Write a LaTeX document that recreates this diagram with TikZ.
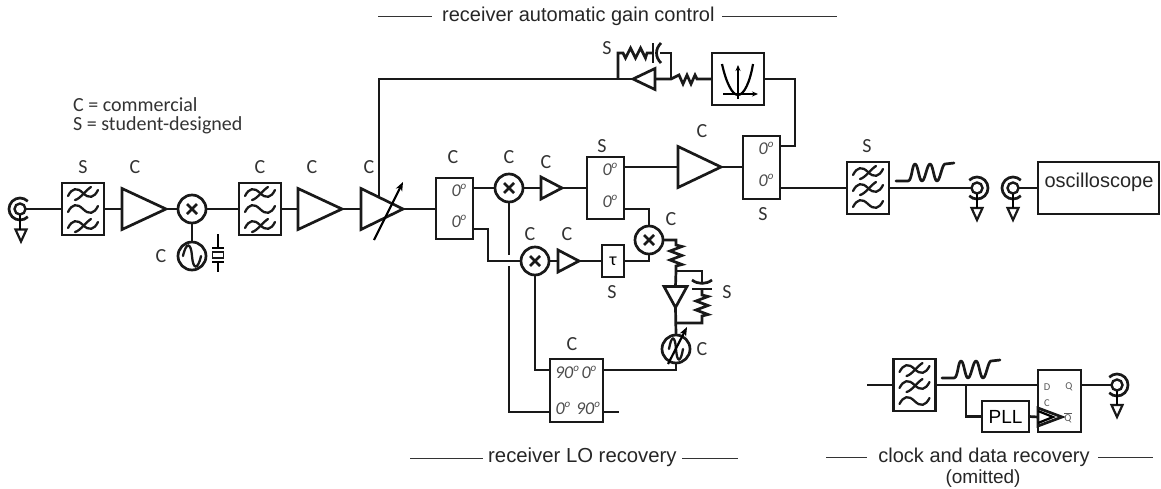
\documentclass[tikz,border=0pt]{standalone}
\usepackage{fontspec}
\setmainfont{Carlito}
\newfontfamily\arialf{Liberation Sans}
\usetikzlibrary{arrows.meta}
\tikzset{
  wire/.style={line width=2.7pt,line join=miter,draw=black!90},
  thin rule/.style={line width=1pt,draw=black!80},
  glyph/.style={line width=2.3pt,draw=black!90,line cap=round},
  ghost/.style={rectangle,inner sep=0pt,outer sep=0pt,minimum width=#1},
  ghost/.default=10pt,
  blk/.style={rectangle,draw=black!90,line width=2.7pt,inner sep=0pt,outer sep=0pt},
  mix/.style={circle,draw=black!90,line width=2.7pt,inner sep=0pt,outer sep=0pt,minimum size=28pt},
  jackc/.style={circle,draw=black!90,line width=2.4pt,inner sep=0pt,outer sep=0pt,minimum size=11pt},
  lab/.style={inner sep=0pt,font=\fontsize{20}{20}\selectfont,text=black!80},
  port/.style={inner sep=0pt,font=\fontsize{18}{18}\selectfont\itshape,text=black!70},
  title/.style={inner sep=0pt,font=\arialf\fontsize{20}{22}\selectfont,text=black!85},
  ff/.style={inner sep=0pt,font=\fontsize{10.5}{11}\selectfont,text=black!65},
}
\newcommand{\dg}{0\raisebox{0.4em}{\fontsize{11}{11}\selectfont o}}
\newcommand{\ndg}{90\raisebox{0.4em}{\fontsize{11}{11}\selectfont o}}
% name, cx, cy, w, h
\newcommand{\ampR}[5]{\node[ghost,minimum width=#4pt,minimum height=#5pt] (#1) at (#2,#3) {};
  \draw[wire] (#1.north west) -- (#1.east) -- (#1.south west) -- cycle;}
\newcommand{\ampL}[5]{\node[ghost,minimum width=#4pt,minimum height=#5pt] (#1) at (#2,#3) {};
  \draw[wire] (#1.north east) -- (#1.west) -- (#1.south east) -- cycle;}
\newcommand{\ampD}[5]{\node[ghost,minimum width=#4pt,minimum height=#5pt] (#1) at (#2,#3) {};
  \draw[wire] (#1.north west) -- (#1.north east) -- (#1.south) -- cycle;}
\newcommand{\gnd}[3]{\node[ghost,minimum width=11pt,minimum height=12pt] (#1) at (#2,#3) {};
  \draw[line width=2.2pt,draw=black!90] (#1.north west) -- (#1.north east) -- (#1.south) -- cycle;}
\newcommand{\wv}[1]{\draw[glyph] (-15,#1+3) .. controls (-11,#1-5) and (-6,#1-6) .. (0,#1) .. controls (6,#1+6) and (11,#1+5) .. (15,#1-3);}
\newcommand{\crs}[1]{\draw[glyph] (-8,#1+7) .. controls (-3,#1+6) and (3,#1-3) .. (8,#1-6);}
\newcommand{\filtbp}[3]{\node[blk,minimum width=42pt,minimum height=52pt] (#1) at (#2,#3) {};
  \begin{scope}[shift={(#2,#3)}]\wv{-16}\crs{-16}\wv{0}\wv{16}\crs{16}\end{scope}}
\newcommand{\filtlp}[3]{\node[blk,minimum width=42pt,minimum height=52pt] (#1) at (#2,#3) {};
  \begin{scope}[shift={(#2,#3)}]\wv{-16}\crs{-16}\wv{0}\crs{0}\wv{16}\end{scope}}
\newcommand{\sinewv}[3]{\draw[glyph] (#1-#3,#2) .. controls (#1-#3*0.66,#2-14) and (#1-1,#2-14) .. (#1,#2) .. controls (#1+1,#2+14) and (#1+#3*0.66,#2+14) .. (#1+#3,#2);}
\newcommand{\xmark}{\draw[line width=2.8pt,draw=black!90] (-5,-5) -- (5,5) (-5,5) -- (5,-5);}
\newcommand{\pulse}[2]{\draw[wire,line cap=round,line join=round] (#1,#2) -- ++(12,0) .. controls +(4,0) and +(-3,0) .. ++(7,-17) .. controls +(3,0) and +(-3,0) .. ++(7,17) .. controls +(3,0) and +(-3,0) .. ++(8,-17) .. controls +(3,0) and +(-3,0) .. ++(7,17) .. controls +(3,0) and +(-3,0) .. ++(8,-17) .. controls +(3,0) and +(-3,0) .. ++(9,-1);}
\newcommand{\zigV}[2]{-- (#1,#2) -- ++(6,1.5) -- ++(-12,4.5) -- ++(12,4.5) -- ++(-12,4.5) -- ++(12,4.5) -- ++(-6,1.5)}
\begin{document}
\begin{tikzpicture}[x=1pt,y=-1pt]
\useasboundingbox (0,0) rectangle (1161,488);

% --- titles
\node[title,anchor=west] (t1) at (442,16) {receiver automatic gain control};
\coordinate (t1a) at (378,16); \coordinate (t1b) at (432,16);
\coordinate (t1c) at (722,16); \coordinate (t1d) at (837,16);
\draw[thin rule] (t1a) -- (t1b) (t1c) -- (t1d);
\node[title,anchor=west,font=\arialf\fontsize{20.3}{22}\selectfont] (t2) at (488,457) {receiver LO recovery};
\coordinate (t2a) at (410,458); \coordinate (t2b) at (483,458);
\coordinate (t2c) at (682,458); \coordinate (t2d) at (738,458);
\draw[thin rule] (t2a) -- (t2b) (t2c) -- (t2d);
\node[title] (t3) at (984,457) {clock and data recovery};
\coordinate (t3a) at (826,457); \coordinate (t3b) at (867,457);
\coordinate (t3c) at (1098,457); \coordinate (t3d) at (1153,457);
\draw[thin rule] (t3a) -- (t3b) (t3c) -- (t3d);
\node[inner sep=0pt,font=\arialf\fontsize{19}{20}\selectfont,text=black!85] (t4) at (983,479) {(omitted)};
\node[lab,anchor=west,font=\fontsize{20}{20}\selectfont] (k1) at (73,105) {C = commercial};
\node[lab,anchor=west,font=\fontsize{20}{20}\selectfont] (k2) at (73,125) {S = student-designed};

% --- input chain
\node[jackc] (j1) at (20,209) {};
\draw[wire] (j1)++(45:11pt) arc[start angle=45,end angle=315,radius=11pt];
\gnd{g1}{21}{235.5}
\draw[line width=2.2pt] (j1.south) -- (j1.south |- g1.north);
\filtbp{f1}{83}{209}
\ampR{a1}{144}{209}{44}{41}
\node[mix,path picture={\xmark}] (m0) at (192,209) {};
\node[mix] (o0) at (192,256) {};
\sinewv{192}{256}{9}
\filtbp{f2}{260}{209}
\ampR{a2}{320}{209}{44}{41}
\ampR{a3}{382}{209}{42}{41}
\coordinate (a3top) at (379,196);
\coordinate (a3cA) at (374,240); \coordinate (a3cB) at (403,182);
\draw[line width=2.2pt,-{Stealth[length=9pt,width=7pt]}] (a3cA) -- (a3cB);
\draw[wire] (j1.east) -- (f1.west);
\draw[wire] (f1.east) -- (a1.west);
\draw[wire] (a1.east) -- (m0.west);
\draw[wire] (m0.south) -- (o0.north);
\draw[wire] (m0.east) -- (f2.west);
\draw[wire] (f2.east) -- (a2.west);
\draw[wire] (a2.east) -- (a3.west);
% crystal
\node[rectangle,draw=black!90,line width=1.8pt,minimum width=11pt,minimum height=6pt,inner sep=0pt] (xt) at (218,255) {};
\coordinate (xa) at (218,234); \coordinate (xb) at (218,248);
\coordinate (xc) at (218,262); \coordinate (xd) at (218,272);
\coordinate (xe) at (212,248); \coordinate (xf) at (224,248);
\coordinate (xg) at (212,262); \coordinate (xh) at (224,262);
\draw[line width=2.2pt] (xa) -- (xb) (xe) -- (xf) (xg) -- (xh) (xc) -- (xd);

% --- splitters
\node[blk,minimum width=37pt,minimum height=61pt] (s1) at (454.5,208.5) {};
\node[port] (s1a) at (459,190) {\dg}; \node[port] (s1b) at (459,221) {\dg};
\node[mix,path picture={\xmark}] (m1) at (509,188) {};
\ampR{a4}{551.5}{188}{21}{22}
\node[blk,minimum width=37pt,minimum height=62pt] (s2) at (605.5,188) {};
\node[port] (s2a) at (610,169) {\dg}; \node[port] (s2b) at (610,201) {\dg};
\ampR{a5}{699.5}{167}{43}{41}
\node[blk,minimum width=37pt,minimum height=63pt] (s3) at (761.5,167.5) {};
\node[port] (s3a) at (766,148) {\dg}; \node[port] (s3b) at (766,180) {\dg};
\node[blk,minimum width=52pt,minimum height=52pt] (pb) at (738,79) {};
\draw[line width=1.6pt,-{Stealth[length=6pt,width=5pt]}] (738,99) -- (738,65);
\draw[line width=1.6pt,-{Stealth[length=6pt,width=5pt]}] (723,94) -- (758,94);
\draw[line width=2.2pt] (722,64) .. controls (726,82) and (732,95) .. (738,95) .. controls (744,95) and (750,82) .. (753,64);

\coordinate (s1in) at (436,209);
\coordinate (s1o1) at (473,188); \coordinate (s1o2) at (473,229);
\coordinate (s2o1) at (624,167); \coordinate (s2o2) at (624,209);
\draw[wire] (a3.east) -- (s1in);
\draw[wire] (s1o1) -- (m1.west);
\draw[wire] (m1.east) -- (a4.west);
\draw[wire] (a4.east) -- (s2.west);
\draw[wire] (s2o1) -- (a5.west);
\coordinate (s3in) at (743,167);
\draw[wire] (a5.east) -- (s3in);

% --- AGC feedback
\coordinate (s3o1) at (780,146); \coordinate (s3o2) at (780,188);
\coordinate (fbc) at (795,79);
\draw[wire] (s3o1) -| (fbc) -- (pb.east);
\ampL{bL}{644}{79}{22}{21}
\coordinate (jn1) at (671,79);
\coordinate (jn2) at (618,79);
\coordinate (fbtop) at (379,79);
\draw[wire] (pb.west) -- (697,79) -- ++(-2,-4) -- ++(-4,9) -- ++(-4,-9) -- ++(-4,9) -- ++(-4,-9) -- (jn1) -- (bL.east);
\draw[wire] (jn1) |- (660,53);
\draw[wire] (653,53) -- (647,53) -- ++(-1.5,5) -- ++(-5,-10) -- ++(-5,10) -- ++(-5,-10) -- ++(-5,10) -- ++(-2.5,-5) -- (618,53) -- (jn2);
\draw[wire] (bL.west) -- (fbtop) -- (a3top);
\coordinate (c1a) at (653,43); \coordinate (c1b) at (653,63);
\coordinate (c1c) at (661,43); \coordinate (c1d) at (661,63);
\draw[wire] (c1a) -- (c1b);
\draw[wire] (c1c) .. controls (655,49) and (655,57) .. (c1d);

% --- LO recovery
\node[mix,path picture={\xmark}] (m2) at (535,261) {};
\ampR{a6}{568.5}{261}{21}{22}
\node[blk,minimum width=22pt,minimum height=32pt,font=\fontsize{18}{18}\selectfont] (tau) at (613,261) {τ};
\node[mix,path picture={\xmark}] (m3) at (649,240) {};
\coordinate (gapt) at (509,255); \coordinate (gapb) at (509,266);
\draw[wire] (s1o2) -| (488,261) -- (m2.west);
\draw[wire] (m1.south) -- (gapt);
\draw[wire] (m2.east) -- (a6.west);
\draw[wire] (a6.east) -- (tau.west);
\draw[wire] (tau.east) -| (m3.south);
\draw[wire] (s2o2) -| (m3.north);
\node[blk,minimum width=53pt,minimum height=63pt] (lo) at (576.5,390.5) {};
\node[port] (lo1) at (567,372) {\ndg}; \node[port] (lo2) at (589,372) {\dg};
\node[port] (lo3) at (563,408) {\dg}; \node[port] (lo4) at (588,408) {\ndg};
\coordinate (loa) at (550,370); \coordinate (lob) at (550,412);
\coordinate (loc) at (603,370); \coordinate (lod) at (603,412);
\coordinate (loe) at (619,412);
\draw[wire] (m2.south) |- (loa);
\draw[wire] (gapb) |- (lob);
\draw[wire] (lod) -- (loe);
\ampD{bD}{675.5}{297}{23}{21}
\node[mix] (vco) at (676,349) {};
\sinewv{676}{349}{7}
\draw[line width=2.2pt,-{Stealth[length=9pt,width=7pt]}] (668,364) -- (687,327);
\coordinate (lpa) at (676,271); \coordinate (lpb) at (676,323);
\draw[wire] (m3.east) -- (676,240) \zigV{676}{245} -- (lpa) -- (bD.north);
\draw[wire] (bD.south) -- (vco.north);
\draw[wire] (loc) -| (vco.south);
\coordinate (c2top) at (702,282); \coordinate (c2bot) at (702,289);
\draw[wire] (lpa) -| (c2top);
\draw[wire] (692,280) .. controls (698,284.5) and (706,284.5) .. (712,280);
\draw[wire] (692,289) -- (712,289);
\draw[wire] (c2bot) \zigV{702}{295} -- (702,323) -- (lpb);

% --- output
\filtlp{f3}{868}{188}
\draw[wire] (s3o2) -- (f3.west);
\pulse{896}{181}
\node[jackc] (j2) at (977,188) {};
\draw[wire] (j2)++(135:11pt) arc[start angle=135,end angle=-135,radius=11pt];
\gnd{g2}{977}{214}
\draw[line width=2.2pt] (j2.south) -- (g2.north);
\draw[wire] (f3.east) -- (j2.west);
\node[jackc] (j3) at (1013,188) {};
\draw[wire] (j3)++(45:11pt) arc[start angle=45,end angle=315,radius=11pt];
\gnd{g3}{1013}{214}
\draw[line width=2.2pt] (j3.south) -- (g3.north);
\node[blk,minimum width=121pt,minimum height=52pt] (sc) at (1098.5,188) {};
\node[inner sep=0pt,font=\arialf\fontsize{20}{20}\selectfont,text=black!85] (sct) at (1099,182) {oscilloscope};
\draw[wire] (j3.east) -- (sc.west);

% --- clock and data recovery
\coordinate (cdrin) at (867,385);
\filtlp{f4}{914.5}{385}
\pulse{942}{378}
\node[blk,minimum width=43pt,minimum height=62pt] (dff) at (1059.5,401) {};
\node[blk,minimum width=47pt,minimum height=31pt,font=\arialf\fontsize{19}{19}\selectfont] (pll) at (1005.5,416.5) {PLL};
\coordinate (dffd) at (1038,385); \coordinate (dffq) at (1081,385);
\coordinate (cdrbr) at (966,385);
\coordinate (clkb) at (1038,417);
\draw[wire] (cdrin) -- (f4.west);
\draw[wire] (f4.east) -- (dffd);
\draw[wire] (cdrbr) |- (pll.west);
\draw[wire] (pll.east) -- (clkb);
\ampR{ck1}{1050}{417}{24}{18}
\coordinate (ck2a) at (1038,411); \coordinate (ck2b) at (1053,417); \coordinate (ck2c) at (1038,423);
\draw[line width=2.2pt] (ck2a) -- (ck2b) -- (ck2c);
\node[ff] (fd) at (1047,387) {D}; \node[ff] (fq) at (1069,387) {Q};
\node[ff] (fc) at (1047,403) {C}; \node[ff] (fn) at (1068,418) {$\overline{\mbox{Q}}$};
\node[jackc] (j4) at (1117,385) {};
\draw[wire] (j4)++(135:11pt) arc[start angle=135,end angle=-135,radius=11pt];
\gnd{g4}{1117}{411}
\draw[line width=2.2pt] (j4.south) -- (g4.north);
\draw[wire] (dffq) -- (j4.west);

% --- C / S labels
\node[lab] (l1) at (83,167) {S}; \node[lab] (l2) at (135,167) {C};
\node[lab] (l3) at (161,256) {C}; \node[lab] (l4) at (260,167) {C};
\node[lab] (l5) at (312,167) {C}; \node[lab] (l6) at (369,167) {C};
\node[lab] (l7) at (453,157) {C}; \node[lab] (l8) at (509,157) {C};
\node[lab] (l9) at (546,162) {C}; \node[lab] (l10) at (602,146) {S};
\node[lab] (l11) at (702,131) {C}; \node[lab] (l12) at (763,214) {S};
\node[lab] (l13) at (607,48) {S}; \node[lab] (l14) at (671,219) {C};
\node[lab] (l15) at (530,234) {C}; \node[lab] (l16) at (567,234) {C};
\node[lab] (l17) at (612,292) {S}; \node[lab] (l18) at (727,292) {S};
\node[lab] (l19) at (702,349) {C}; \node[lab] (l20) at (572,344) {C};
\node[lab] (l21) at (867,146) {S};
\end{tikzpicture}
\end{document}
